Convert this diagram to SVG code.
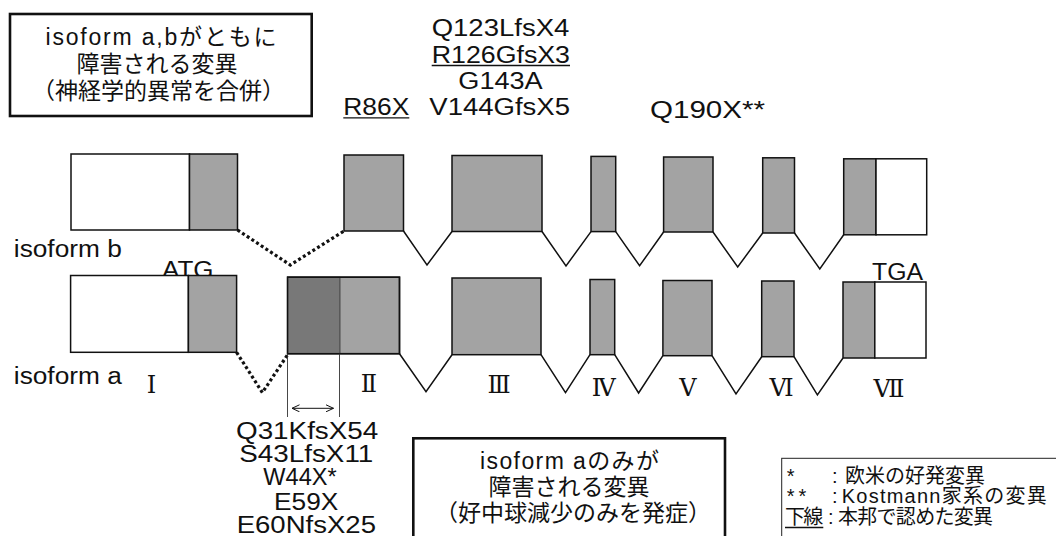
<svg xmlns="http://www.w3.org/2000/svg" width="1056" height="536" viewBox="0 0 1056 536">
<style>
.t{font-family:"Liberation Sans","Noto Sans CJK JP",sans-serif;font-size:23px;fill:#111}
.j{font-family:"Liberation Sans","Noto Sans CJK JP",sans-serif;font-size:23px;fill:#111;text-anchor:middle}
.lg{font-family:"Liberation Sans","Noto Sans CJK JP",sans-serif;font-size:20px;fill:#111}
.rn{font-family:"DejaVu Serif","Liberation Serif",serif;font-size:24px;fill:#111;text-anchor:middle}
.g{fill:#a3a3a3;stroke:#111;stroke-width:1.5}
.w{fill:#fff;stroke:#111;stroke-width:1.5}
.d{fill:#787878;stroke:#111;stroke-width:1.5}
.in{fill:none;stroke:#111;stroke-width:1.5;stroke-linejoin:miter}
.dt{fill:none;stroke:#111;stroke-width:3.2;stroke-dasharray:3 2.6}
.ul{stroke:#111;stroke-width:1.3}
.box{fill:#fff;stroke:#111;stroke-width:2.6}
.thin{stroke:#333;stroke-width:0.9;fill:none}
</style>
<defs>
<marker id="ah" viewBox="0 0 8 8" refX="7.5" refY="4" markerWidth="8" markerHeight="8" markerUnits="userSpaceOnUse" orient="auto-start-reverse">
<path d="M0,0.5 L7.5,4 L0,7.5" fill="none" stroke="#111" stroke-width="1"/>
</marker>
</defs>
<rect width="1056" height="536" fill="#fff"/>

<g id="box-ab">
<rect class="box" x="10" y="14" width="301.7" height="102"/>
<text class="j" x="161" y="45" textLength="231" lengthAdjust="spacing">isoform a,bがともに</text>
<text class="j" x="157" y="72">障害される変異</text>
<text class="j" x="158.5" y="99">（神経学的異常を合併）</text>
</g>

<g id="top-mutations">
<text class="t" x="431.7" y="36" textLength="137.6" lengthAdjust="spacingAndGlyphs">Q123LfsX4</text>
<text class="t" x="431.7" y="62.5" textLength="138.3" lengthAdjust="spacingAndGlyphs">R126GfsX3</text>
<line class="ul" x1="431.7" y1="65.5" x2="570" y2="65.5"/>
<text class="t" x="458.3" y="89" textLength="84.4" lengthAdjust="spacingAndGlyphs">G143A</text>
<text class="t" x="343.3" y="115" textLength="66" lengthAdjust="spacingAndGlyphs">R86X</text>
<line class="ul" x1="343.3" y1="117.8" x2="409.3" y2="117.8"/>
<text class="t" x="429.3" y="115" textLength="140.7" lengthAdjust="spacingAndGlyphs">V144GfsX5</text>
<text class="t" x="650" y="117.5" textLength="115" lengthAdjust="spacingAndGlyphs">Q190X**</text>
</g>

<g id="labels">
<text class="t" x="13.8" y="257" textLength="108" lengthAdjust="spacingAndGlyphs">isoform b</text>
<text class="t" x="13.8" y="384" textLength="108" lengthAdjust="spacingAndGlyphs">isoform a</text>
<text class="t" x="162" y="277.5" textLength="51.5" lengthAdjust="spacingAndGlyphs">ATG</text>
<text class="t" x="872" y="280" textLength="51" lengthAdjust="spacingAndGlyphs">TGA</text>
</g>

<g id="isoform-b">
<g id="b-ex1"><rect class="w" x="71" y="154" width="118.5" height="76"/><rect class="g" x="189.5" y="154" width="48" height="76"/></g>
<g id="b-ex2"><rect class="g" x="344" y="155" width="59.5" height="76"/></g>
<g id="b-ex3"><rect class="g" x="452" y="155.5" width="90" height="76"/></g>
<g id="b-ex4"><rect class="g" x="591" y="156.4" width="24.7" height="75.2"/></g>
<g id="b-ex5"><rect class="g" x="663.6" y="157" width="49.4" height="75"/></g>
<g id="b-ex6"><rect class="g" x="762.7" y="157.8" width="31.8" height="75.2"/></g>
<g id="b-ex7"><rect class="g" x="843.7" y="158.8" width="32.3" height="76"/><rect class="w" x="876" y="158.8" width="50.7" height="76"/></g>
</g>

<g id="isoform-a">
<g id="a-ex1"><rect class="w" x="70.6" y="275.5" width="117.8" height="76.8"/><rect class="g" x="188.4" y="275.5" width="48.2" height="76.8"/></g>
<g id="a-ex2"><rect class="g" x="287.6" y="277.2" width="111.9" height="76.5"/><rect class="d" x="287.6" y="277.2" width="52.4" height="76.5" style="stroke-width:0.6"/><rect x="287.6" y="277.2" width="111.9" height="76.5" fill="none" stroke="#111" stroke-width="1.5"/></g>
<g id="a-ex3"><rect class="g" x="452" y="278" width="89" height="76.7"/></g>
<g id="a-ex4"><rect class="g" x="590" y="279.5" width="24.7" height="75.2"/></g>
<g id="a-ex5"><rect class="g" x="662.9" y="280.5" width="49.1" height="75.2"/></g>
<g id="a-ex6"><rect class="g" x="761.7" y="281" width="32.3" height="75.7"/></g>
<g id="a-ex7"><rect class="g" x="843" y="282" width="31.8" height="76"/><rect class="w" x="874.8" y="282" width="51.2" height="76"/></g>
</g>

<g id="connectors">
<polyline class="dt" points="237.5,230 290.3,265 344,231"/>
<polyline class="in" points="403.5,231 427,265 452,231.5"/>
<polyline class="in" points="542,231.5 566,266 591,231.6"/>
<polyline class="in" points="615.7,231.6 639.6,265.8 663.6,232"/>
<polyline class="in" points="713,232 737.7,267 762.7,233"/>
<polyline class="in" points="794.5,233 819.8,269 843.7,234.7"/>
<polyline class="dt" points="236.6,352.3 262.4,392.6 287.6,354.7"/>
<polyline class="in" points="399.5,353.7 426,391.6 452,354.7"/>
<polyline class="in" points="541,354.7 565.5,392.6 590,354.7"/>
<polyline class="in" points="614.7,354.7 638.6,393 662.9,355.7"/>
<polyline class="in" points="712,355.7 736,394 761.7,356.7"/>
<polyline class="in" points="794,356.7 817.4,395 843,358"/>
<line class="thin" x1="287.5" y1="353.7" x2="287.5" y2="417"/>
<line class="thin" x1="339.5" y1="353.7" x2="339.5" y2="417"/>
<line x1="292" y1="408.3" x2="333.5" y2="408.3" stroke="#111" stroke-width="1" marker-start="url(#ah)" marker-end="url(#ah)"/>
</g>

<g id="exon-numbers">
<text class="rn" x="151.5" y="393">Ⅰ</text>
<text class="rn" x="369" y="392">Ⅱ</text>
<text class="rn" x="499" y="393">Ⅲ</text>
<text class="rn" x="603.7" y="396">Ⅳ</text>
<text class="rn" x="687.8" y="396">Ⅴ</text>
<text class="rn" x="781.5" y="396">Ⅵ</text>
<text class="rn" x="889" y="397">Ⅶ</text>
</g>

<g id="bottom-mutations">
<text class="t" x="236" y="438.5" textLength="142.3" lengthAdjust="spacingAndGlyphs">Q31KfsX54</text>
<text class="t" x="239.3" y="461.7" textLength="134" lengthAdjust="spacingAndGlyphs">S43LfsX11</text>
<text class="t" x="263.3" y="485" textLength="73.4" lengthAdjust="spacingAndGlyphs">W44X*</text>
<text class="t" x="274" y="509.5" textLength="64.3" lengthAdjust="spacingAndGlyphs">E59X</text>
<text class="t" x="236.7" y="532.5" textLength="139.3" lengthAdjust="spacingAndGlyphs">E60NfsX25</text>
</g>

<g id="box-a">
<rect class="box" x="413.3" y="438.3" width="311.7" height="110"/>
<text class="j" x="569.5" y="469" textLength="179" lengthAdjust="spacing">isoform aのみが</text>
<text class="j" x="569" y="495">障害される変異</text>
<text class="j" x="573" y="521">（好中球減少のみを発症）</text>
</g>

<g id="legend">
<rect x="781.7" y="458.3" width="300" height="100" fill="#fff" stroke="#222" stroke-width="1"/>
<text class="lg" x="786.7" y="483">*</text>
<text class="lg" x="832" y="483">:</text>
<text class="lg" x="845" y="483">欧米の好発変異</text>
<text class="lg" x="786.7" y="503.3" letter-spacing="4">**</text>
<text class="lg" x="832" y="503.3">:</text>
<text class="lg" x="841.7" y="503.3" textLength="205" lengthAdjust="spacing">Kostmann家系の変異</text>
<text class="lg" x="785" y="523.5" textLength="38.3" lengthAdjust="spacing">下線</text>
<line class="ul" x1="785" y1="527.5" x2="823.3" y2="527.5"/>
<text class="lg" x="828" y="523.5">:</text>
<text class="lg" x="838" y="523.5" textLength="155" lengthAdjust="spacing">本邦で認めた変異</text>
</g>
</svg>
